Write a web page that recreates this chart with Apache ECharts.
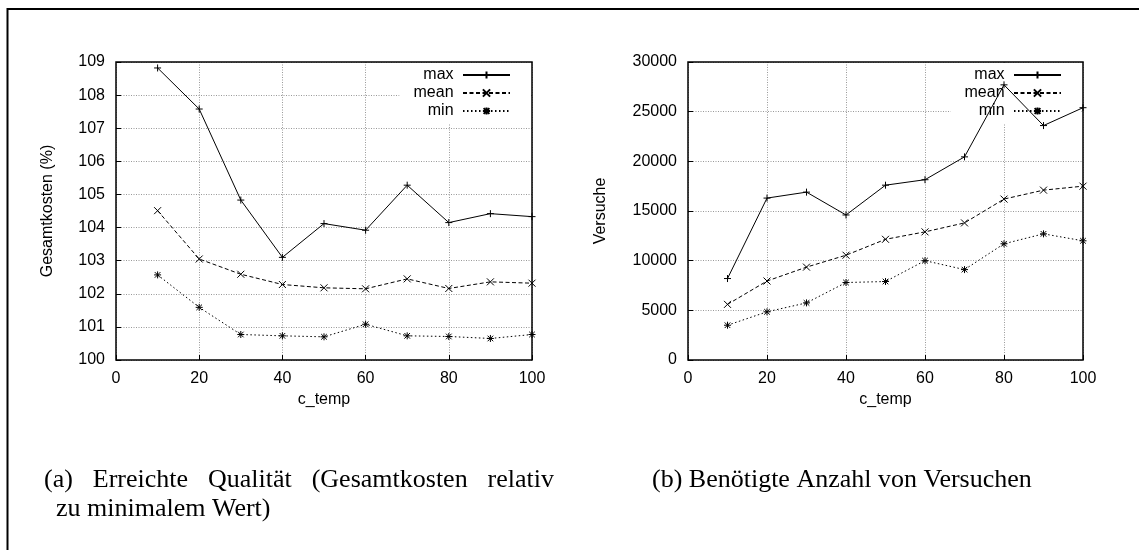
<!DOCTYPE html>
<html>
<head>
<meta charset="utf-8">
<script src="https://cdn.jsdelivr.net/npm/echarts@6/dist/echarts.min.js"></script>
<style>
html, body { margin: 0; padding: 0; background: #fff; }
#main { width: 1139px; height: 550px; }
</style>
</head>
<body>
<div id="main"></div>
<script>
const cTemp = [10, 20, 30, 40, 50, 60, 70, 80, 90, 100]

// (a) Gesamtkosten relativ zum Minimum, in %
const kostenMax = [108.82, 107.58, 104.83, 103.1, 104.12, 103.92, 105.28, 104.15, 104.42, 104.33]
const kostenMean = [104.51, 103.05, 102.59, 102.28, 102.18, 102.15, 102.45, 102.16, 102.36, 102.32]
const kostenMin = [102.57, 101.59, 100.77, 100.73, 100.7, 101.08, 100.73, 100.71, 100.65, 100.77]

// (b) Anzahl Versuche
const versucheMax = [8200, 16300, 16900, 14600, 17600, 18150, 20450, 27700, 23600, 25400]
const versucheMean = [5600, 7950, 9350, 10550, 12150, 12900, 13800, 16200, 17100, 17500]
const versucheMin = [3500, 4850, 5750, 7800, 7900, 10000, 9100, 11700, 12700, 12000]

const seriesNames = ['max', 'mean', 'min']
const xRange = {min: 0, max: 100, step: 20}
const kostenRange = {min: 100, max: 109, step: 1}
const versucheRange = {min: 0, max: 30000, step: 5000}

const captionA1 = ['(a)', 'Erreichte', 'Qualität', '(Gesamtkosten', 'relativ']
const captionA2 = 'zu minimalem Wert)'
const captionB = '(b) Benötigte Anzahl von Versuchen'

const sans = '"Liberation Sans", Arial, sans-serif'
const serifFont = '26px "Liberation Serif", "Times New Roman", serif'

// gnuplot-artige Punktsymbole: +, x, *
const symbols = {
    max: 'path://M0,5L10,5M5,0L5,10',
    mean: 'path://M0,0L10,10M0,10L10,0',
    min: 'path://M0,5L10,5M5,0L5,10M1,1L9,9M1,9L9,1'
}
const dashes = {
    max: 'solid',
    mean: [4, 2.5],
    min: [1.5, 2.5]
}

let myChart = echarts.init(document.getElementById('main'))

const makeSeries = (idx, name, values) => ({
    name: name,
    type: 'line',
    xAxisIndex: idx,
    yAxisIndex: idx,
    data: cTemp.map((x, k) => [x, values[k]]),
    symbol: symbols[name],
    symbolSize: 7,
    showSymbol: true,
    z: 2,
    lineStyle: {color: '#000', width: 1, type: dashes[name]},
    itemStyle: {color: '#000', borderColor: '#000', borderWidth: 1},
    emphasis: {disabled: true},
    animation: false
})

const xAxisOf = (idx) => ({
    gridIndex: idx,
    type: 'value',
    min: xRange.min,
    max: xRange.max,
    interval: xRange.step,
    name: 'c_temp',
    nameLocation: 'middle',
    nameGap: 29,
    nameTextStyle: {color: '#000', fontSize: 16, fontFamily: sans},
    axisLine: {show: false},
    axisTick: {show: true, inside: true, length: 5, lineStyle: {color: '#000'}},
    axisLabel: {margin: 11, color: '#000', fontSize: 16, fontFamily: sans},
    splitLine: {show: true, lineStyle: {color: '#999', width: 1, type: [1, 1.5]}}
})

const yAxisOf = (idx, range, name, gap) => ({
    gridIndex: idx,
    type: 'value',
    min: range.min,
    max: range.max,
    interval: range.step,
    name: name,
    nameLocation: 'middle',
    nameGap: gap,
    nameTextStyle: {color: '#000', fontSize: 16, fontFamily: sans},
    axisLine: {show: false},
    axisTick: {show: true, inside: true, length: 5, lineStyle: {color: '#000'}},
    axisLabel: {margin: 11, color: '#000', fontSize: 16, fontFamily: sans, formatter: (v) => String(v)},
    splitLine: {show: true, lineStyle: {color: '#999', width: 1, type: [1, 1.5]}}
})

const legendOf = (right) => ({
    orient: 'vertical',
    align: 'right',
    right: right,
    top: 63,
    padding: [3, 19, 4, 14],
    itemGap: 0,
    itemWidth: 47,
    itemHeight: 9,
    backgroundColor: '#fff',
    z: 1,
    selectedMode: false,
    data: seriesNames,
    formatter: (n) => n + ' ',
    textStyle: {color: '#000', fontSize: 16, fontFamily: sans, lineHeight: 18}
})

// Bildunterschriften: Zeile (a) im Blocksatz
const measure = (() => {
    const ctx = document.createElement('canvas').getContext('2d')
    ctx.font = serifFont
    return (t) => ctx.measureText(t).width
})()

const makeCaptions = () => {
    let items = []
    const left = 44, right = 554, y1 = 480, y2 = 509
    let widths = captionA1.map(measure)
    let total = widths.reduce((a, b) => a + b, 0)
    let gap = (right - left - total) / (captionA1.length - 1)
    let x = left
    captionA1.forEach((w, i) => {
        items.push({type: 'text', x: x, y: y1,
            style: {text: w, font: serifFont, fill: '#000', verticalAlign: 'middle'}})
        x += widths[i] + gap
    })
    items.push({type: 'text', x: 56, y: y2,
        style: {text: captionA2, font: serifFont, fill: '#000', verticalAlign: 'middle'}})
    items.push({type: 'text', x: 652, y: y1,
        style: {text: captionB, font: serifFont, fill: '#000', verticalAlign: 'middle'}})
    items.push({type: 'polyline', shape: {points: [[7.5, 550], [7.5, 9], [1139, 9]]},
        style: {stroke: '#000', lineWidth: 2, fill: null}})
    return items
}

let option = {
    backgroundColor: '#fff',
    animation: false,
    grid: [
        {left: 116, top: 62, width: 416, height: 298, show: true, borderColor: '#000', borderWidth: 1.5, z: 3},
        {left: 688, top: 62, width: 395, height: 298, show: true, borderColor: '#000', borderWidth: 1.5, z: 3}
    ],
    legend: [legendOf(609), legendOf(58)],
    xAxis: [xAxisOf(0), xAxisOf(1)],
    yAxis: [
        yAxisOf(0, kostenRange, 'Gesamtkosten (%)', 60),
        yAxisOf(1, versucheRange, 'Versuche', 79)
    ],
    series: [
        makeSeries(0, 'max', kostenMax),
        makeSeries(0, 'mean', kostenMean),
        makeSeries(0, 'min', kostenMin),
        makeSeries(1, 'max', versucheMax),
        makeSeries(1, 'mean', versucheMean),
        makeSeries(1, 'min', versucheMin)
    ],
    graphic: makeCaptions()
}

myChart.setOption(option)
</script>
</body>
</html>
